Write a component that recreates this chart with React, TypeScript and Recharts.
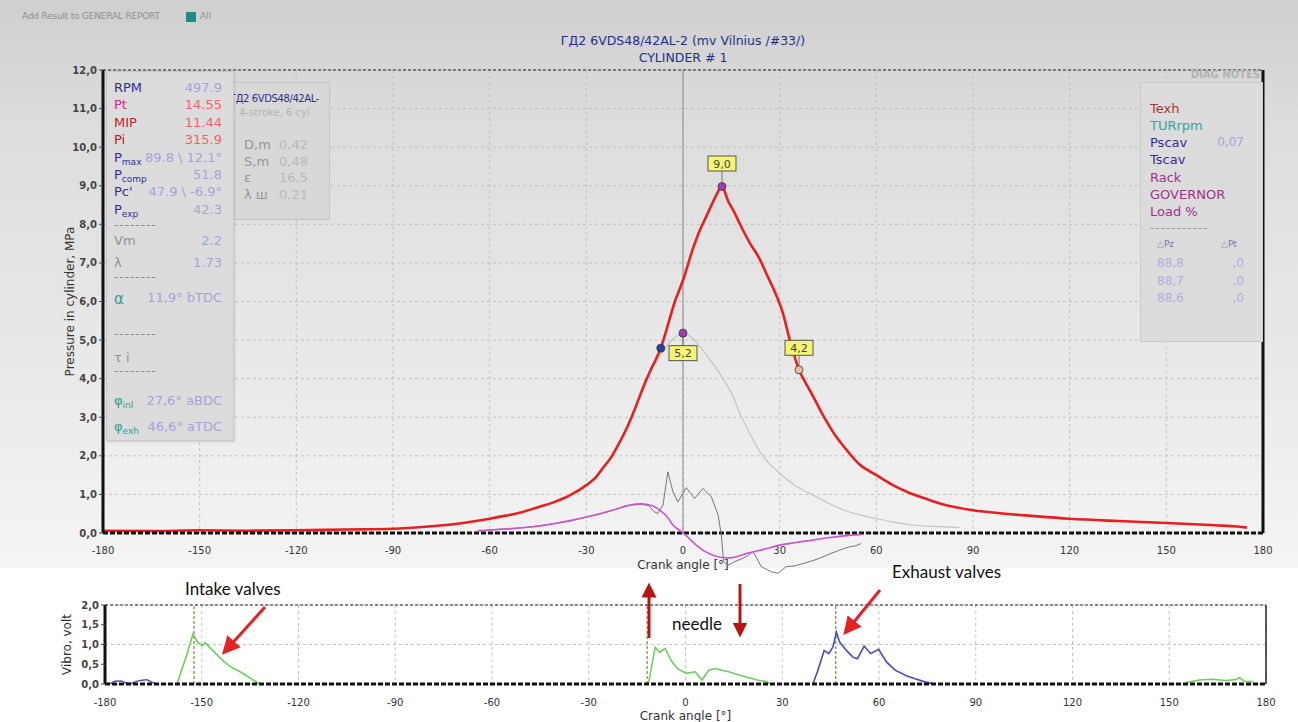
import {
  ComposedChart,
  Line,
  Scatter,
  XAxis,
  YAxis,
  CartesianGrid,
  ReferenceLine,
} from 'recharts'

// ---------- data ----------
const X_TICKS = [-180, -150, -120, -90, -60, -30, 0, 30, 60, 90, 120, 150, 180]
const P_TICKS = [0, 1, 2, 3, 4, 5, 6, 7, 8, 9, 10, 11, 12]
const R_TICKS = [0, 0.1, 0.2]
const V_TICKS = [0, 0.5, 1, 1.5, 2]

type Pt = { a: number; p: number }
const pts = (rows: number[][]): Pt[] => rows.map(([a, p]) => ({ a, p }))

// cylinder pressure, MPa
const PRESSURE = pts([
  [-180, 0.06], [-165, 0.05], [-150, 0.07], [-135, 0.06], [-120, 0.07], [-105, 0.09],
  [-90, 0.11], [-80, 0.16], [-70, 0.24], [-60, 0.37], [-55, 0.45], [-50, 0.54],
  [-45, 0.67], [-40, 0.8], [-35, 0.98], [-30, 1.24], [-27, 1.45], [-25, 1.67],
  [-22, 2.0], [-20, 2.3], [-17, 2.8], [-15, 3.2], [-12, 3.85], [-10, 4.23],
  [-6.9, 4.79], [-5, 5.3], [-2.6, 5.98], [0, 6.55], [3, 7.35], [5, 7.8],
  [7.2, 8.2], [10, 8.7], [12.1, 8.98], [14, 8.6], [15.5, 8.38], [18, 7.95],
  [20.7, 7.52], [23.8, 7.1], [26, 6.7], [29, 6.15], [31, 5.7], [33, 5.05],
  [36, 4.23], [38, 3.9], [40, 3.6], [42.5, 3.2], [45, 2.83], [47.5, 2.5],
  [50, 2.23], [55, 1.76], [60, 1.5], [65, 1.25], [70, 1.05], [75, 0.9],
  [80, 0.76], [90, 0.59], [100, 0.5], [110, 0.43], [120, 0.37], [135, 0.31],
  [150, 0.26], [165, 0.2], [172, 0.17], [175, 0.14],
])

// compression (motoring) curve, MPa
const COMPRESSION = pts([
  [-60, 0.37], [-50, 0.54], [-40, 0.8], [-30, 1.24], [-25, 1.67], [-20, 2.3],
  [-15, 3.2], [-12, 3.8], [-10, 4.2], [-7, 4.6], [-4, 4.95], [-2, 5.1],
  [0, 5.18], [3, 5.04], [6, 4.75], [8.3, 4.5], [10.7, 4.22], [12.4, 4.0],
  [15.5, 3.55], [17.9, 3.05], [20, 2.7], [23, 2.22], [26.2, 1.85], [30, 1.55],
  [35, 1.22], [40.5, 0.98], [45, 0.78], [50, 0.59], [55, 0.47], [60, 0.37],
  [65, 0.29], [70, 0.22], [78, 0.17], [85.8, 0.14],
])

// smoothed derivative curve
const DERIV = pts([
  [-63.8, 0.05], [-55, 0.1], [-45, 0.17], [-38, 0.27], [-32, 0.37], [-27, 0.47],
  [-21.7, 0.59], [-16.5, 0.72], [-13, 0.75], [-11.4, 0.74], [-9, 0.68], [-7.2, 0.59],
  [-5, 0.42], [-3.1, 0.2], [0, 0], [2, -0.15], [4.1, -0.32], [6.5, -0.47],
  [9.3, -0.58], [12, -0.64], [14.5, -0.65], [17, -0.61], [19.6, -0.54], [25, -0.43],
  [30, -0.32], [35, -0.25], [40.3, -0.19], [45, -0.13], [50, -0.08], [55.3, -0.04],
])

// raw heat release curve
const HEAT = pts([
  [-63, 0.04], [-58, 0.09], [-52, 0.11], [-46, 0.17], [-40, 0.24], [-35, 0.3],
  [-30, 0.41], [-25, 0.5], [-20, 0.63], [-16, 0.72], [-13, 0.74], [-10.5, 0.7],
  [-9, 0.55], [-7.8, 0.5], [-6.2, 0.72], [-4.7, 1.58], [-3.1, 1.06], [-1.6, 0.8],
  [1, 1.17], [3.6, 0.89], [6.2, 1.15], [8.8, 0.93], [10.9, 0.46], [11.9, -0.06],
  [12.6, -0.75], [14, -0.84], [16, -0.75], [18.6, -0.66], [20, -0.6], [21.7, -0.49],
  [22.5, -0.6], [24.3, -0.88], [27.4, -1.01], [29.5, -1.05], [32, -0.88], [34.5, -0.86],
  [37.2, -0.8], [40, -0.73], [42.4, -0.66], [45.5, -0.55], [48.6, -0.45], [51.7, -0.36],
  [53.5, -0.34], [55.3, -0.28],
])

const P_MAX = pts([[12.1, 8.98]])
const P_COMP = pts([[0, 5.18]])
const P_C = pts([[-6.9, 4.79]])
const P_EXP = pts([[36, 4.23]])

// vibration, volt
const VIB_START = pts([
  [-180, 0.01], [-178, 0.02], [-177, 0.07], [-175, 0.08], [-173.5, 0.03], [-172, 0.01],
  [-170.5, 0.06], [-169, 0.09], [-167, 0.11], [-165.5, 0.05], [-164, 0.0],
])
const VIB_INTAKE = pts([
  [-157.7, 0], [-154.7, 0.72], [-152.7, 1.27], [-151.3, 1.06], [-149.9, 0.97], [-148.9, 1.04],
  [-147.1, 0.89], [-145, 0.72], [-143, 0.56], [-140.9, 0.43], [-138.1, 0.31], [-136.1, 0.21],
  [-134, 0.1], [-132, 0],
])
const VIB_NEEDLE = pts([
  [-11.9, 0], [-11.4, 0.05], [-9.4, 0.93], [-8, 0.8], [-6.3, 0.9], [-4.5, 0.6],
  [-2.5, 0.39], [0.3, 0.27], [3, 0.31], [5.1, 0.1], [7.2, 0.35], [9.2, 0.39],
  [11.3, 0.35], [13.4, 0.31], [16.1, 0.24], [19.6, 0.16], [22.3, 0.1], [25, 0.06], [26.4, 0],
])
const VIB_EXHAUST = pts([
  [39.5, 0], [40.9, 0.31], [43, 0.85], [44.4, 0.77], [45.7, 0.93], [46.8, 1.31],
  [47.8, 1.06], [49.9, 0.85], [51.9, 0.68], [53.3, 0.64], [55.4, 0.96], [57.4, 0.77],
  [59.9, 0.88], [62.3, 0.56], [65, 0.35], [68.5, 0.21], [71.2, 0.13], [74, 0.06], [77, 0],
])
const VIB_TAIL = pts([
  [155.2, 0.04], [159.4, 0.1], [163.5, 0.12], [167.6, 0.09], [170.5, 0.11], [171.8, 0.16],
  [173.2, 0.07], [176, 0.06],
])
const VALVE_MARKS = [-152.4, -11.9, 46.6]

// ---------- styles ----------
const UI = "'DejaVu Sans', Verdana, sans-serif"
const GRID = '#c2c2c2'
const comma1 = (v: number) => v.toFixed(1).replace('.', ',')
const commaR = (v: number) => (v === 0 ? '0' : v.toFixed(1).replace('.', ','))
const tickStyle = { fill: '#444', fontSize: 10, fontWeight: 'bold', fontFamily: UI }
const xTickStyle = { fill: '#333', fontSize: 10, fontFamily: UI }

function markerShape(color: string, dy: number) {
  return (props: any) => {
    const { cx, cy, payload } = props
    if (cx == null || cy == null) return <g />
    const by = cy + dy
    return (
      <g>
        {dy !== 0 && (
          <>
            <line x1={cx} y1={cy} x2={cx} y2={by} stroke="#777" strokeWidth={1} />
            <rect x={cx - 14} y={by - 7.5} width={28} height={15} fill="#f6f572" stroke="#555" strokeWidth={1} />
            <text x={cx} y={by + 4} textAnchor="middle" fontSize={11} fontFamily={UI} fill="#444">
              {comma1(payload.p)}
            </text>
          </>
        )}
        <circle cx={cx} cy={cy} r={4} fill={color} stroke="#333" strokeWidth={0.8} />
      </g>
    )
  }
}

function MainChart() {
  return (
    <ComposedChart width={1298} height={600} margin={{ top: 70, right: 5, bottom: 27, left: 61 }}>
      <CartesianGrid yAxisId="p" stroke={GRID} strokeDasharray="3 3" />
      <XAxis
        type="number"
        dataKey="a"
        domain={[-180, 180]}
        ticks={X_TICKS}
        height={40}
        tick={xTickStyle}
        tickLine={false}
        tickMargin={8}
        axisLine={{ stroke: '#111', strokeWidth: 3, strokeDasharray: '5 2' }}
        label={{ value: 'Crank angle [°]', position: 'insideBottom', offset: 4, fill: '#333', fontSize: 12, fontFamily: UI }}
      />
      <YAxis
        yAxisId="p"
        domain={[0, 12]}
        ticks={P_TICKS}
        width={42}
        tickFormatter={comma1}
        tick={tickStyle}
        tickSize={4}
        tickLine={{ stroke: '#444' }}
        axisLine={{ stroke: '#111', strokeWidth: 3 }}
        label={{
          value: 'Pressure in cylinder, MPa',
          angle: -90,
          position: 'insideLeft',
          offset: 9,
          style: { textAnchor: 'middle', fill: '#333', fontSize: 12, fontFamily: UI },
        }}
      />
      <YAxis
        yAxisId="r"
        orientation="right"
        domain={[0, 0.5]}
        ticks={R_TICKS}
        width={30}
        tickFormatter={commaR}
        tick={tickStyle}
        tickLine={false}
        axisLine={{ stroke: '#111', strokeWidth: 3 }}
      />
      <ReferenceLine yAxisId="p" y={12} stroke="#222" strokeDasharray="3 2" />
      <ReferenceLine yAxisId="p" x={0} stroke="#8a8a8a" strokeWidth={1} />
      <Line data={COMPRESSION} dataKey="p" yAxisId="p" type="monotone" stroke="#c4c4c4" strokeWidth={1.2} dot={false} isAnimationActive={false} />
      <Line data={PRESSURE} dataKey="p" yAxisId="p" type="monotone" stroke="#e62020" strokeWidth={2.6} dot={false} isAnimationActive={false} />
      <Scatter data={P_C} dataKey="p" yAxisId="p" shape={markerShape('#2a3fa8', 0)} isAnimationActive={false} />
      <Scatter data={P_COMP} dataKey="p" yAxisId="p" shape={markerShape('#a43cb0', 20)} isAnimationActive={false} />
      <Scatter data={P_MAX} dataKey="p" yAxisId="p" shape={markerShape('#a43cb0', -23)} isAnimationActive={false} />
      <Scatter data={P_EXP} dataKey="p" yAxisId="p" shape={markerShape('#f2b8a8', -22)} isAnimationActive={false} />
    </ComposedChart>
  )
}

function DerivChart() {
  return (
    <ComposedChart width={1298} height={600} margin={{ top: 70, right: 35, bottom: 19, left: 103 }}>
      <XAxis type="number" dataKey="a" domain={[-180, 180]} hide />
      <YAxis domain={[-1.25, 12]} hide />
      <Line data={HEAT} dataKey="p" type="linear" stroke="#767676" strokeWidth={1} dot={false} isAnimationActive={false} />
      <Line data={DERIV} dataKey="p" type="monotone" stroke="#cc55cc" strokeWidth={1.6} dot={false} isAnimationActive={false} />
    </ComposedChart>
  )
}

function VibroChart() {
  return (
    <ComposedChart width={1298} height={134} margin={{ top: 17, right: 32, bottom: 2, left: 65 }}>
      <CartesianGrid stroke={GRID} strokeDasharray="3 3" />
      <XAxis
        type="number"
        dataKey="a"
        domain={[-180, 180]}
        ticks={X_TICKS}
        height={36}
        tick={xTickStyle}
        tickLine={false}
        tickMargin={9}
        axisLine={{ stroke: '#111', strokeWidth: 3, strokeDasharray: '5 2' }}
        label={{ value: 'Crank angle [°]', position: 'insideBottom', offset: 0, fill: '#333', fontSize: 12, fontFamily: UI }}
      />
      <YAxis
        domain={[0, 2]}
        ticks={V_TICKS}
        width={40}
        tickFormatter={comma1}
        tick={tickStyle}
        tickSize={4}
        tickLine={{ stroke: '#444' }}
        axisLine={{ stroke: '#111', strokeWidth: 3 }}
        label={{
          value: 'Vibro, volt',
          angle: -90,
          position: 'insideLeft',
          offset: 2,
          style: { textAnchor: 'middle', fill: '#333', fontSize: 12, fontFamily: UI },
        }}
      />
      <ReferenceLine y={2} stroke="#222" strokeDasharray="3 2" />
      <ReferenceLine x={180} stroke="#222" strokeWidth={1.5} />
      {VALVE_MARKS.map((m) => (
        <ReferenceLine key={m} x={m} stroke="#6b6a1e" strokeDasharray="3 2" />
      ))}
      <Line data={VIB_START} dataKey="p" type="linear" stroke="#4a4ab4" strokeWidth={1.4} dot={false} isAnimationActive={false} />
      <Line data={VIB_INTAKE} dataKey="p" type="linear" stroke="#72cc62" strokeWidth={1.6} dot={false} isAnimationActive={false} />
      <Line data={VIB_NEEDLE} dataKey="p" type="linear" stroke="#72cc62" strokeWidth={1.6} dot={false} isAnimationActive={false} />
      <Line data={VIB_EXHAUST} dataKey="p" type="linear" stroke="#4a4ab4" strokeWidth={1.6} dot={false} isAnimationActive={false} />
      <Line data={VIB_TAIL} dataKey="p" type="linear" stroke="#72cc62" strokeWidth={1.6} dot={false} isAnimationActive={false} />
    </ComposedChart>
  )
}

// ---------- info panels ----------
const KEY_BLUE = '#2f2f92'
const VAL_BLUE = '#a3a3da'
const VAL_RED = '#f06464'
const TEAL = '#2f9f95'
const GREYK = '#909090'

type Row = { y: number; k?: React.ReactNode; v?: string; kc?: string; vc?: string; dash?: boolean }
const sub = (base: string, s: string) => (
  <>
    {base}
    <span style={{ fontSize: 9, verticalAlign: -3 }}>{s}</span>
  </>
)
const LEFT_ROWS: Row[] = [
  { y: 88, k: 'RPM', v: '497.9', kc: KEY_BLUE, vc: VAL_BLUE },
  { y: 105, k: 'Pt', v: '14.55', kc: '#c0308c', vc: VAL_RED },
  { y: 123, k: 'MIP', v: '11.44', kc: '#c42424', vc: VAL_RED },
  { y: 140, k: 'Pi', v: '315.9', kc: '#b02020', vc: VAL_RED },
  { y: 158, k: sub('P', 'max'), v: '89.8 \\ 12.1°', kc: KEY_BLUE, vc: VAL_BLUE },
  { y: 175, k: sub('P', 'comp'), v: '51.8', kc: KEY_BLUE, vc: VAL_BLUE },
  { y: 192, k: "Pc'", v: '47.9 \\ -6.9°', kc: KEY_BLUE, vc: VAL_BLUE },
  { y: 210, k: sub('P', 'exp'), v: '42.3', kc: KEY_BLUE, vc: VAL_BLUE },
  { y: 226, dash: true },
  { y: 241, k: 'Vm', v: '2.2', kc: GREYK, vc: VAL_BLUE },
  { y: 263, k: 'λ', v: '1.73', kc: GREYK, vc: VAL_BLUE },
  { y: 278, dash: true },
  { y: 298, k: <span style={{ fontSize: 15 }}>α</span>, v: '11,9° bTDC', kc: TEAL, vc: VAL_BLUE },
  { y: 335, dash: true },
  { y: 358, k: 'τ i', kc: GREYK },
  { y: 372, dash: true },
  { y: 401, k: sub('φ', 'inl'), v: '27,6° aBDC', kc: TEAL, vc: VAL_BLUE },
  { y: 427, k: sub('φ', 'exh'), v: '46,6° aTDC', kc: TEAL, vc: VAL_BLUE },
]

const ENGINE_ROWS = [
  { y: 145, k: 'D,m', v: '0,42' },
  { y: 162, k: 'S,m', v: '0,48' },
  { y: 178, k: 'ε', v: '16,5' },
  { y: 195, k: 'λ ш', v: '0,21' },
]

const NOTE_ROWS = [
  { y: 109, k: 'Texh', c: '#a83434' },
  { y: 126, k: 'TURrpm', c: '#2fa3a0' },
  { y: 143, k: 'Pscav', c: KEY_BLUE, v: '0,07' },
  { y: 160, k: 'Tscav', c: KEY_BLUE },
  { y: 178, k: 'Rack', c: '#a0308c' },
  { y: 195, k: 'GOVERNOR', c: '#a0308c' },
  { y: 212, k: 'Load %', c: '#a0308c' },
]
const DELTA_ROWS = [
  { y: 263, pz: '88,8', pt: ',0' },
  { y: 281, pz: '88,7', pt: ',0' },
  { y: 298, pz: '88,6', pt: ',0' },
]

const abs = (left: number, top: number, extra: React.CSSProperties = {}): React.CSSProperties => ({
  position: 'absolute',
  left,
  top,
  whiteSpace: 'nowrap',
  ...extra,
})

function Panels() {
  return (
    <>
      {/* engine panel (behind) */}
      <div style={abs(226, 82, { width: 102, height: 136, background: '#d8d8d8', border: '1px solid #c4c4c4', overflow: 'hidden' })}>
        <div style={abs(3, 10, { color: KEY_BLUE, fontSize: 10, letterSpacing: -0.4 })}>ГД2 6VDS48/42AL-</div>
        <div style={abs(12, 24, { color: '#b4b4b4', fontSize: 10 })}>4-stroke, 6 cyl</div>
        {ENGINE_ROWS.map((r) => (
          <div key={r.k}>
            <div style={abs(17, r.y - 82 - 9, { color: '#959595', fontSize: 13 })}>{r.k}</div>
            <div style={abs(52, r.y - 82 - 9, { color: '#b8b8b8', fontSize: 13 })}>{r.v}</div>
          </div>
        ))}
      </div>

      {/* result panel */}
      <div style={abs(106, 71, { width: 126, height: 368, background: '#dcdcdc', border: '1px solid #c8c8c8', boxShadow: '1px 1px 2px rgba(0,0,0,0.12)' })}>
        {LEFT_ROWS.map((r, i) =>
          r.dash ? (
            <div key={i} style={abs(7, r.y - 71 - 9, { color: '#8a8a8a', fontSize: 12, letterSpacing: 1 })}>--------</div>
          ) : (
            <div key={i}>
              <div style={abs(7, r.y - 71 - 9, { color: r.kc, fontSize: 13 })}>{r.k}</div>
              {r.v && (
                <div style={abs(0, r.y - 71 - 9, { width: 115, textAlign: 'right', color: r.vc, fontSize: 13 })}>{r.v}</div>
              )}
            </div>
          ),
        )}
      </div>

      {/* diag notes */}
      <div style={abs(1150, 69, { width: 110, textAlign: 'right', color: '#b2b2b2', fontSize: 10, fontWeight: 'bold' })}>DIAG NOTES</div>
      <div style={abs(1140, 82, { width: 121, height: 258, background: '#dcdcdc', border: '1px solid #cacaca' })}>
        {NOTE_ROWS.map((r) => (
          <div key={r.k}>
            <div style={abs(9, r.y - 82 - 9, { color: r.c, fontSize: 13 })}>{r.k}</div>
            {r.v && <div style={abs(60, r.y - 82 - 9, { width: 43, textAlign: 'right', color: VAL_BLUE, fontSize: 12 })}>{r.v}</div>}
          </div>
        ))}
        <div style={abs(9, 229 - 82 - 9, { color: '#999', fontSize: 12, letterSpacing: 1 })}>-----------</div>
        <div style={abs(16, 245 - 82 - 7, { color: '#7a7aa8', fontSize: 9 })}>
          <span style={{ color: '#9a9ab8' }}>△</span>Pz
        </div>
        <div style={abs(80, 245 - 82 - 7, { color: '#7a7aa8', fontSize: 9 })}>
          <span style={{ color: '#9a9ab8' }}>△</span>Pt
        </div>
        {DELTA_ROWS.map((r) => (
          <div key={r.y}>
            <div style={abs(16, r.y - 82 - 8, { color: '#b0b0de', fontSize: 12 })}>{r.pz}</div>
            <div style={abs(60, r.y - 82 - 8, { width: 43, textAlign: 'right', color: '#b0b0de', fontSize: 12 })}>{r.pt}</div>
          </div>
        ))}
      </div>
    </>
  )
}

function Annotations() {
  const note = "Lato, 'Open Sans', sans-serif"
  return (
    <>
      <svg width={1298} height={722} style={{ position: 'absolute', left: 0, top: 0, pointerEvents: 'none' }}>
        <defs>
          <marker id="headRed" markerWidth="6" markerHeight="6" refX="3" refY="3" orient="auto" markerUnits="strokeWidth">
            <path d="M0,0 L6,3 L0,6 z" fill="#e42222" />
          </marker>
          <marker id="headDark" markerWidth="5" markerHeight="5" refX="2.5" refY="2.5" orient="auto" markerUnits="strokeWidth">
            <path d="M0,0 L5,2.5 L0,5 z" fill="#b81414" />
          </marker>
        </defs>
        <line x1={265} y1={607} x2={228} y2={648} stroke="#e42222" strokeWidth={3} markerEnd="url(#headRed)" />
        <line x1={880} y1={590} x2={849} y2={628} stroke="#e42222" strokeWidth={3} markerEnd="url(#headRed)" />
        <line x1={649} y1={638} x2={649} y2={590} stroke="#b81414" strokeWidth={3} markerEnd="url(#headDark)" />
        <line x1={740} y1={584} x2={740} y2={630} stroke="#b81414" strokeWidth={3} markerEnd="url(#headDark)" />
      </svg>
      <div style={abs(185, 578, { fontFamily: note, fontSize: 17, color: '#111' })}>Intake valves</div>
      <div style={abs(672, 613, { fontFamily: note, fontSize: 17, color: '#111' })}>needle</div>
      <div style={abs(892, 561, { fontFamily: note, fontSize: 17, color: '#111' })}>Exhaust valves</div>
    </>
  )
}

export default function App() {
  return (
    <div style={{ position: 'absolute', left: 0, top: 0, width: 1298, height: 722, overflow: 'hidden', background: '#fff', fontFamily: UI }}>
      <div style={abs(0, 0, { width: 1298, height: 568, background: 'linear-gradient(#cfcfcf, #dcdcdc 20%, #f4f4f4)' })} />
      <div style={abs(22, 11, { fontSize: 9, color: '#8e8e8e', letterSpacing: -0.2 })}>Add Result to GENERAL REPORT</div>
      <div style={abs(186, 12, { width: 10, height: 10, background: '#1f8a8a' })} />
      <div style={abs(200, 11, { fontSize: 9, color: '#8e8e8e' })}>All</div>
      <div style={abs(383, 32, { width: 600, textAlign: 'center', color: '#1f2f8a', fontSize: 12.5, lineHeight: '17px' })}>
        ГД2 6VDS48/42AL-2 (mv Vilnius /#33/)
        <br />
        CYLINDER # 1
      </div>
      <div style={abs(0, 0)}>
        <MainChart />
      </div>
      <div style={abs(0, 0)}>
        <DerivChart />
      </div>
      <Panels />
      <div style={abs(0, 588)}>
        <VibroChart />
      </div>
      <Annotations />
    </div>
  )
}
